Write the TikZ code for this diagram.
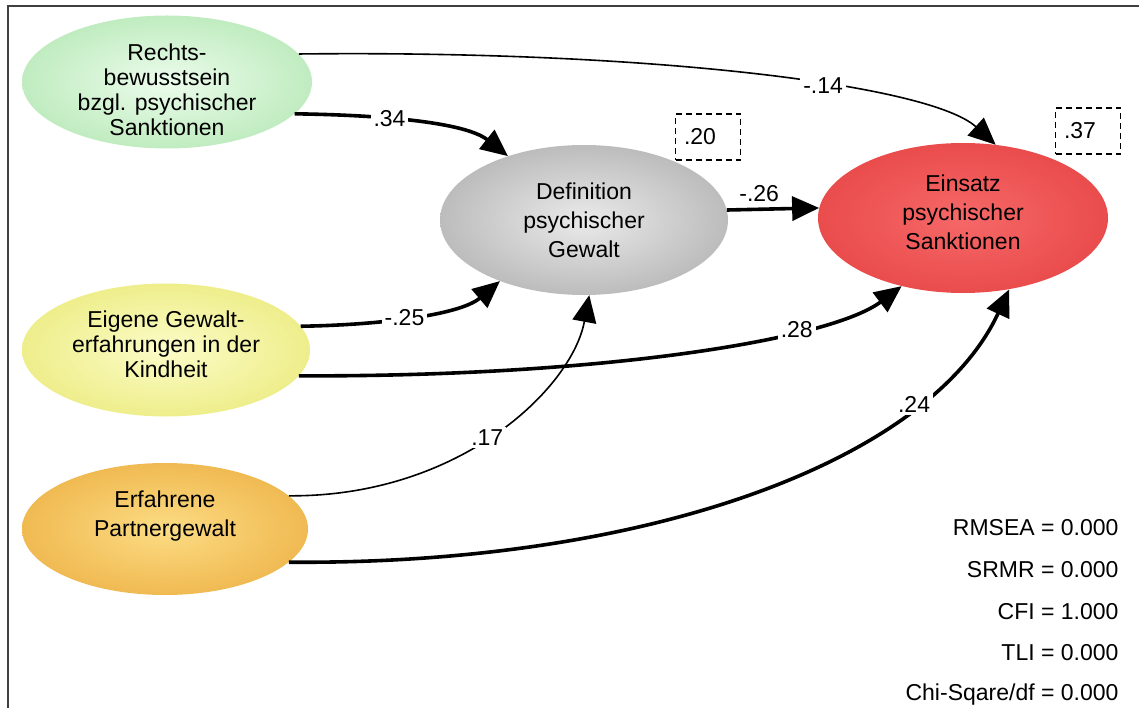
\documentclass[tikz,border=0pt]{standalone}
\usepackage{fontspec}
\setmainfont{Liberation Sans}
\usetikzlibrary{arrows.meta,shapes.geometric}
\begin{document}
\begin{tikzpicture}[x=1pt,y=-1pt,
  every node/.style={font=\fontsize{23}{25}\selectfont},
  latent/.style={ellipse, inner sep=0pt, draw=none},
  path/.style={-{Triangle[length=27pt,width=24pt]}},
  thick path/.style={path, line width=3.6pt},
  thin path/.style={path, line width=1.6pt},
  coef/.style={fill=white, inner sep=3pt},
  rsq/.style={draw, dash pattern=on 6pt off 4pt, line width=1.4pt, minimum width=65pt, minimum height=46pt, inner xsep=8pt, text width=48pt, align=left},
  fit/.style={anchor=base east},
  frame/.style={draw=black!75, line width=1.8pt}
]
\useasboundingbox (0,0) rectangle (1139,708);
\definecolor{gA}{RGB}{236,252,236}\definecolor{gB}{RGB}{192,236,192}
\definecolor{sA}{RGB}{234,234,234}\definecolor{sB}{RGB}{188,188,188}
\definecolor{rA}{RGB}{246,104,104}\definecolor{rB}{RGB}{234,76,76}
\definecolor{yA}{RGB}{252,252,200}\definecolor{yB}{RGB}{238,238,140}
\definecolor{oA}{RGB}{252,220,132}\definecolor{oB}{RGB}{240,186,82}

\draw[frame] (8,708) -- (8,6) -- (1139,6);

\node[latent, minimum width=290pt, minimum height=133pt, inner color=gA, outer color=gB,
  label={[align=center, font=\fontsize{23}{25}\selectfont, yshift=-8pt]center:Rechts-\\bewusstsein\\bzgl. psychischer\\Sanktionen}] (g) at (167,82) {};
\node[latent, minimum width=288pt, minimum height=150pt, inner color=sA, outer color=sB,
  align=center, font=\fontsize{23}{29}\selectfont] (d) at (584,220) {Definition\\psychischer\\Gewalt};
\node[latent, minimum width=290pt, minimum height=150pt, inner color=rA, outer color=rB,
  label={[align=center, font=\fontsize{23}{29}\selectfont, yshift=6pt]center:Einsatz\\psychischer\\Sanktionen}] (r) at (963,218) {};
\node[latent, minimum width=288pt, minimum height=133pt, inner color=yA, outer color=yB,
  label={[align=center, font=\fontsize{23}{25}\selectfont, yshift=6pt]center:Eigene Gewalt-\\erfahrungen in der\\Kindheit}] (y) at (166,350) {};
\node[latent, minimum width=286pt, minimum height=132pt, inner color=oA, outer color=oB,
  label={[align=center, font=\fontsize{23}{29}\selectfont, yshift=13pt]center:Erfahrene\\Partnergewalt}] (o) at (165,529) {};

\node[rsq] (b20) at (708,137) {.20};
\node[rsq] (b37) at (1088,131) {.37};

% paths
\draw[thin path] (g.12) .. controls (650,50) and (930,85) .. node[coef, pos=0.6] {-.14} (r.66);
\draw[thick path] (g.-14) .. controls (380,115) and (465,122) .. node[coef, pos=0.38] {.34} (d.140);
\draw[thick path] (d.4) -- node[pos=0.35, above=6pt, inner sep=0pt] {-.26} (r.176);
\draw[thick path] (y.10) .. controls (380,325) and (460,315) .. node[coef, pos=0.45] {-.25} (d.216);
\draw[thick path] (y.-11) .. controls (600,377) and (830,340) .. node[coef, pos=0.7] {.28} (r.228);
\draw[thin path] (o.15) .. controls (460,497) and (572,388) .. node[coef, pos=0.47] {.17} (d.-86);
\draw[thick path] (o.-15) .. controls (650,565) and (930,460) .. node[coef, pos=0.75] {.24} (r.-57);

% fit indices
\node[fit] (f1) at (1122,535) {RMSEA = 0.000};
\node[fit] (f2) at (1122,577) {SRMR = 0.000};
\node[fit] (f3) at (1122,619) {CFI = 1.000};
\node[fit] (f4) at (1122,660) {TLI = 0.000};
\node[fit] (f5) at (1122,700) {Chi-Sqare/df = 0.000};
\end{tikzpicture}
\end{document}
